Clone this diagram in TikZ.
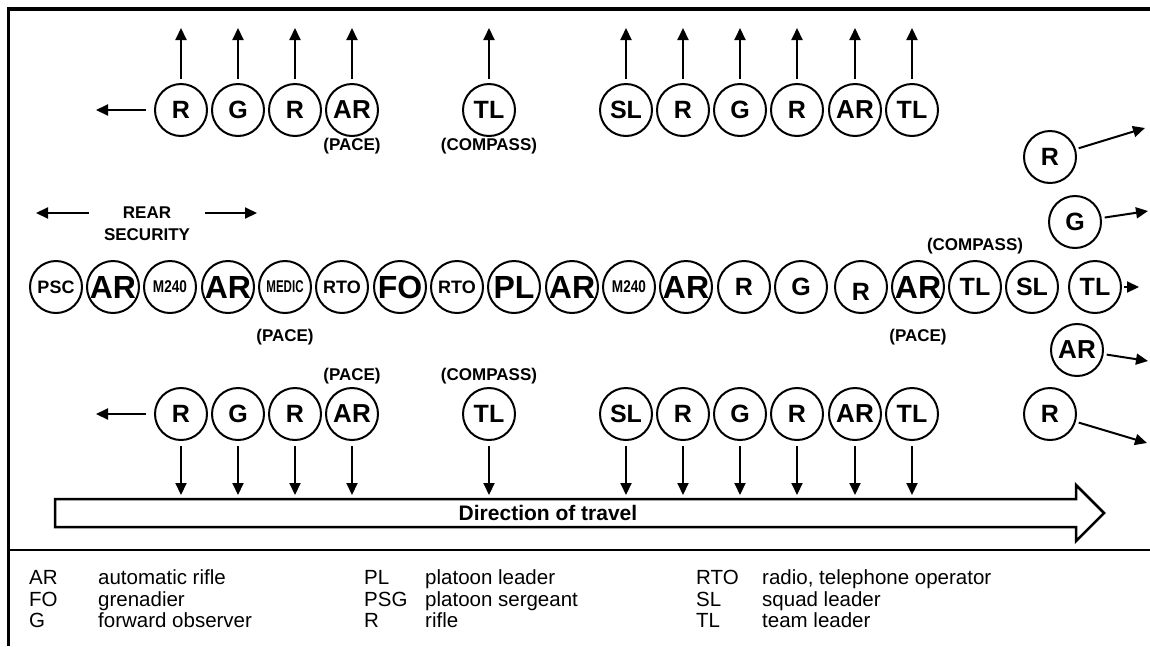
\documentclass[tikz,border=0pt]{standalone}
\usepackage{fontspec}
\setmainfont{Liberation Sans}
\usepackage{graphicx}
\usetikzlibrary{arrows.meta}
\begin{document}
\begin{tikzpicture}[x=1pt,y=-1pt,
  sol/.style={circle,draw,line width=2pt,minimum size=52pt,inner sep=0pt,font=\bfseries\fontsize{25}{25}\selectfont},
  fbig/.style={font=\bfseries\fontsize{32}{32}\selectfont},
  fmid/.style={font=\bfseries\fontsize{26}{26}\selectfont},
  fsmall/.style={font=\bfseries\fontsize{18}{18}\selectfont},
  ftiny/.style={font=\bfseries\fontsize{17}{17}\selectfont},
  lbl/.style={font=\bfseries\fontsize{17}{17}\selectfont,inner sep=0pt},
  arr/.style={line width=2pt,-{Triangle[length=12pt,width=11pt]}},
  legab/.style={anchor=base west,font=\fontsize{20.5}{20.5}\selectfont,inner sep=0pt},
  travel/.style={line width=2.5pt,fill=white,line join=miter}
]
\useasboundingbox (0,0) rectangle (1150,646);

% frame
\draw[line width=2.5pt] (8.5,646) -- (8.5,8);
\draw[line width=3.5pt] (7.25,9) -- (1150,9);
\draw[line width=2pt] (8.5,550) -- (1150,550);

% top and bottom rows
\foreach \i/\x/\t/\s in {1/181/R/sol,2/238/G/sol,3/295/R/sol,4/352/AR/fmid,5/489/TL/sol,6/626/SL/sol,7/683/R/sol,8/740/G/sol,9/797/R/sol,10/855/AR/fmid,11/912/TL/sol}{
  \node[sol,\s] (t\i) at (\x,110) {\t};
  \coordinate (tu\i) at (\x,28);
  \draw[arr,shorten <=4pt] (t\i) -- (tu\i);
  \node[sol,\s] (b\i) at (\x,414) {\t};
  \coordinate (bd\i) at (\x,495);
  \draw[arr,shorten <=5pt] (b\i) -- (bd\i);
}
\coordinate (tl) at (96,110);
\draw[arr,shorten <=8pt] (t1) -- (tl);
\coordinate (bl) at (96,414);
\draw[arr,shorten <=8pt] (b1) -- (bl);

\node[lbl] (tpace) at (352,146) {(PACE)};
\node[lbl] (tcomp) at (489,146) {(COMPASS)};
\node[lbl] (bpace) at (352,376) {(PACE)};
\node[lbl] (bcomp) at (489,376) {(COMPASS)};

% middle row
\node[sol,fsmall] (m1) at (56,287) {PSC};
\node[sol,fbig] (m2) at (113,287) {AR};
\node[sol,ftiny] (m3) at (170,287) {\scalebox{0.8}[1]{M240}};
\node[sol,fbig] (m4) at (228,287) {AR};
\node[sol,ftiny] (m5) at (285,287) {\scalebox{0.68}[1]{MEDIC}};
\node[sol,fsmall] (m6) at (342,287) {RTO};
\node[sol,fbig] (m7) at (400,287) {FO};
\node[sol,fsmall] (m8) at (457,287) {RTO};
\node[sol,fbig] (m9) at (514,287) {PL};
\node[sol,fbig] (m10) at (572,287) {AR};
\node[sol,ftiny] (m11) at (629,287) {\scalebox{0.8}[1]{M240}};
\node[sol,fbig] (m12) at (686,287) {AR};
\node[sol] (m13) at (744,287) {R};
\node[sol] (m14) at (801,287) {G};
\node[sol] (m15) at (861,287) {\raisebox{-5pt}[\height][\depth]{R}};
\node[sol,fbig] (m16) at (918,287) {AR};
\node[sol] (m17) at (975,287) {TL};
\node[sol] (m18) at (1032,287) {SL};

\node[lbl] (mpace1) at (285,337) {(PACE)};
\node[lbl] (mpace2) at (918,337) {(PACE)};
\node[lbl] (mcomp) at (975,246) {(COMPASS)};

% rear security
\node[lbl] (rear) at (147,213) {REAR};
\node[lbl] (sec) at (147,235) {SECURITY};
\coordinate (rl) at (36,213);
\coordinate (rr) at (257,213);
\draw[arr,shorten <=34pt] (rear) -- (rl);
\draw[arr,shorten <=34pt] (rear) -- (rr);

% right column
\node[sol] (r1) at (1050,157) {R};
\node[sol] (r2) at (1075,222) {G};
\node[sol] (r3) at (1095,287) {TL};
\node[sol,fmid] (r4) at (1077,350) {AR};
\node[sol] (r5) at (1050,414) {R};
\coordinate (e1) at (1145,128);
\coordinate (e2) at (1148,211);
\coordinate (e3) at (1139,287);
\coordinate (e4) at (1148,361);
\coordinate (e5) at (1147,443);
\draw[arr,shorten <=3pt] (r1) -- (e1);
\draw[arr,shorten <=3pt] (r2) -- (e2);
\draw[arr,shorten <=2pt] (r3) -- (e3);
\draw[arr,shorten <=3pt] (r4) -- (e4);
\draw[arr,shorten <=3pt] (r5) -- (e5);

% direction of travel
\draw[travel] (55,499) -- (1076,499) -- (1076,485) -- (1104,513) -- (1076,541) -- (1076,527) -- (55,527) -- cycle;
\node[font=\bfseries\fontsize{21}{21}\selectfont,inner sep=0pt] (dir) at (548,513) {Direction of travel};

% legend
\node[legab] (a1) at (29,584) {AR};
\node[legab] (a2) at (29,606) {FO};
\node[legab] (a3) at (29,627) {G};
\node[legab] (d1) at (98,584) {automatic rifle};
\node[legab] (d2) at (98,606) {grenadier};
\node[legab] (d3) at (98,627) {forward observer};
\node[legab] (a4) at (364,584) {PL};
\node[legab] (a5) at (364,606) {PSG};
\node[legab] (a6) at (364,627) {R};
\node[legab] (d4) at (425,584) {platoon leader};
\node[legab] (d5) at (425,606) {platoon sergeant};
\node[legab] (d6) at (425,627) {rifle};
\node[legab] (a7) at (696,584) {RTO};
\node[legab] (a8) at (696,606) {SL};
\node[legab] (a9) at (696,627) {TL};
\node[legab] (d7) at (762,584) {radio, telephone operator};
\node[legab] (d8) at (762,606) {squad leader};
\node[legab] (d9) at (762,627) {team leader};
\end{tikzpicture}
\end{document}
